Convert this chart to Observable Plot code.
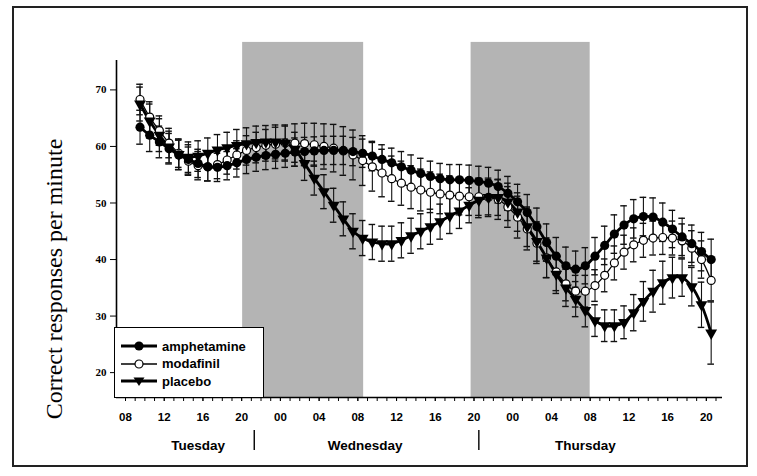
<!DOCTYPE html>
<html>
<head>
<meta charset="utf-8">
<script src="https://cdn.jsdelivr.net/npm/d3@7"></script>
<script src="https://cdn.jsdelivr.net/npm/@observablehq/plot@0.6"></script>
<style>
  body { margin: 0; background: #fff; }
  #wrap { position: relative; width: 757px; height: 476px; overflow: hidden; background: #fff; }
  #frame { position: absolute; left: 12px; top: 6px; width: 736px; height: 461px; border: 2px solid #222; box-sizing: border-box; pointer-events: none; }
  #legend { position: absolute; left: 114px; top: 327px; width: 150px; height: 71px; border: 1.5px solid #000; background: #fff; box-sizing: border-box; }
  .lrow { position: absolute; left: 6px; height: 16px; display: flex; align-items: center; font: bold 13px "Liberation Sans", Arial, sans-serif; color: #000; }
  .lrow svg { margin-right: 5px; }
</style>
</head>
<body>
<div id="wrap">
  <div id="chart"></div>
  <div id="legend"></div>
  <div id="frame"></div>
</div>
<script>
// ---- data ----
const hours = [9.5,10.5,11.5,12.5,13.5,14.5,15.5,16.5,17.5,18.5,19.5,20.5,21.5,22.5,23.5,24.5,25.5,26.5,27.5,28.5,
  29.5,30.5,31.5,32.5,33.5,34.5,35.5,36.5,37.5,38.5,39.5,40.5,41.5,42.5,43.5,44.5,45.5,46.5,47.5,48.5,
  49.5,50.5,51.5,52.5,53.5,54.5,55.5,56.5,57.5,58.5,59.5,60.5,61.5,62.5,63.5,64.5,65.5,66.5,67.5,68.5];

const amphetamine = [63.4,62.0,60.8,59.6,58.5,57.7,57.0,56.4,56.3,56.6, 57.1,57.7,58.1,58.4,58.6,58.8,59.0,59.1,59.2,59.3,
  59.3,59.3,59.1,58.8,58.3,57.7,57.1,56.4,55.8,55.2, 54.7,54.3,54.1,54.1,54.0,53.8,53.5,52.9,51.7,50.2,
  48.3,45.8,43.0,40.6,38.9,38.3,38.9,40.6,42.5,44.5, 46.1,47.2,47.6,47.5,46.6,45.4,44.0,42.8,41.4,40.0];
const modafinil = [68.3,65.2,62.8,60.6,58.8,57.4,56.6,56.4,56.8,57.6, 58.5,59.3,59.8,60.2,60.4,60.6,60.6,60.5,60.3,60.0,
  59.7,59.2,58.5,57.5,56.4,55.3,54.3,53.5,52.8,52.3, 51.9,51.6,51.4,51.2,51.1,51.1,51.0,50.6,49.3,47.5,
  45.4,42.9,40.3,37.8,35.7,34.4,34.4,35.4,37.2,39.4, 41.3,42.6,43.4,43.8,43.9,43.8,43.3,42.0,40.0,36.3];
const placebo = [67.5,64.5,62.0,59.9,58.6,58.1,58.3,58.8,59.4,59.8, 60.2,60.5,60.7,60.8,60.8,60.6,59.5,57.0,54.4,52.0,
  49.6,47.2,45.0,43.8,43.1,42.8,42.8,43.4,44.2,45.0, 45.8,46.7,47.7,48.6,49.6,50.5,51.0,51.0,50.2,48.4,
  45.8,43.2,40.3,37.4,35.0,33.0,31.0,29.2,28.3,28.3, 28.9,30.6,32.6,34.4,35.9,36.8,36.8,35.2,32.0,27.0];

const amphetamineSE = [3.0,2.9,2.8,2.7,2.6,2.6,2.5,2.5,2.5,2.5, 2.5,2.5,2.5,2.5,2.5,2.5,2.5,2.5,2.5,2.5,
  2.5,2.5,2.5,2.5,2.6,2.6,2.6,2.7,2.7,2.7, 2.7,2.7,2.7,2.7,2.7,2.7,2.8,2.9,3.0,3.1,
  3.2,3.3,3.3,3.3,3.3,3.2,3.2,3.3,3.4,3.4, 3.4,3.4,3.4,3.4,3.4,3.3,3.3,3.3,3.4,3.6];
const modafinilSE = [2.7,2.7,2.6,2.6,2.5,2.5,2.5,2.5,2.5,2.5, 2.5,2.6,2.7,2.8,3.0,3.2,3.4,3.6,3.8,4.0,
  4.2,4.3,4.4,4.4,4.3,4.2,4.0,3.9,3.8,3.7, 3.6,3.5,3.4,3.3,3.3,3.3,3.4,3.5,3.6,3.7,
  3.7,3.6,3.5,3.3,3.0,2.8,2.8,2.8,2.9,3.0, 3.0,3.0,3.0,3.0,3.0,3.0,3.0,3.1,3.3,3.6];
const placeboSE = [3.0,3.0,2.9,2.8,2.7,2.7,2.7,2.7,2.7,2.7, 2.8,2.8,2.9,2.9,3.0,3.0,3.0,3.0,3.0,3.0,
  3.0,3.0,3.1,3.1,3.1,3.1,3.1,3.1,3.1,3.1, 3.1,3.1,3.1,3.1,3.1,3.1,3.1,3.2,3.3,3.4,
  3.5,3.5,3.5,3.4,3.3,3.1,2.9,2.8,2.8,2.8, 2.9,3.2,3.5,3.7,3.8,3.6,3.3,3.4,4.0,5.5];

const seriesNames = ["amphetamine", "modafinil", "placebo"];
const nights = [{start: 20.1, end: 32.6}, {start: 43.7, end: 56.0}];
const yTicks = [20, 30, 40, 50, 60, 70];
const xTickHours = [8, 12, 16, 20, 24, 28, 32, 36, 40, 44, 48, 52, 56, 60, 64, 68];
const xTickLabels = ["08","12","16","20","00","04","08","12","16","20","00","04","08","12","16","20"];
const xMinorHours = d3.range(8, 70);
const days = [{name: "Tuesday", t: 15.5}, {name: "Wednesday", t: 32.75}, {name: "Thursday", t: 55.5}];
const daySeparators = [21.3, 44.5];
const yAxisTitle = "Correct responses per minute";

// ---- build table ----
function rows(name, vals, ses) {
  return hours.map((t, i) => ({series: name, t, v: vals[i], se: ses[i]}));
}
const ampRows = rows("amphetamine", amphetamine, amphetamineSE);
const modRows = rows("modafinil", modafinil, modafinilSE);
const plaRows = rows("placebo", placebo, placeboSE);
const allRows = [...ampRows, ...modRows, ...plaRows];

const xDomain = [7.07, 69.67];
const yDomain = [15.6, 75.2];
const shadeTop = 78.4;
const cap = 0.34;
const labelMap = new Map(xTickHours.map((h, i) => [h, xTickLabels[i]]));
const sans = "'Liberation Sans', Arial, sans-serif";
const serif = "'Liberation Serif', 'Times New Roman', serif";

const chart = Plot.plot({
  width: 757,
  height: 476,
  marginLeft: 116,
  marginRight: 35,
  marginTop: 60,
  marginBottom: 79,
  style: {background: "transparent", overflow: "visible"},
  x: {domain: xDomain},
  y: {domain: yDomain},
  marks: [
    Plot.rect(nights, {x1: "start", x2: "end", y1: yDomain[0], y2: shadeTop, fill: "#b4b4b4"}),
    Plot.ruleX(allRows, {x: "t", y1: d => d.v - d.se, y2: d => d.v + d.se, stroke: "#111", strokeWidth: 1.1}),
    Plot.ruleY(allRows, {y: d => d.v + d.se, x1: d => d.t - cap, x2: d => d.t + cap, stroke: "#111", strokeWidth: 1.4}),
    Plot.ruleY(allRows, {y: d => d.v - d.se, x1: d => d.t - cap, x2: d => d.t + cap, stroke: "#111", strokeWidth: 1.4}),
    Plot.line(modRows, {x: "t", y: "v", stroke: "#000", strokeWidth: 1.3, curve: "catmull-rom"}),
    Plot.line(ampRows, {x: "t", y: "v", stroke: "#000", strokeWidth: 2.8, curve: "catmull-rom"}),
    Plot.line(plaRows, {x: "t", y: "v", stroke: "#000", strokeWidth: 2.8, curve: "catmull-rom"}),
    Plot.dot(modRows, {x: "t", y: "v", r: 4, fill: "#fff", stroke: "#000", strokeWidth: 1.2}),
    Plot.dot(ampRows, {x: "t", y: "v", r: 4.6, fill: "#000", stroke: "none"}),
    Plot.dot(plaRows, {x: "t", y: "v", r: 4.4, symbol: "triangle", rotate: 180, fill: "#000", stroke: "none"}),
    Plot.ruleX([xDomain[0]], {stroke: "#000", strokeWidth: 1.6}),
    Plot.ruleY([yDomain[0]], {stroke: "#000", strokeWidth: 1.6}),
    Plot.axisY({ticks: yTicks, tickSize: 6, tickPadding: 4, label: null, fontSize: 11, fontWeight: "bold", fontFamily: serif, stroke: "#000"}),
    Plot.axisX({ticks: xMinorHours, tickSize: 4, tickFormat: () => "", label: null, stroke: "#000"}),
    Plot.axisX({ticks: xTickHours, tickSize: 4, tickPadding: 11, tickFormat: d => labelMap.get(d), label: null,
      fontSize: 11.5, fontWeight: "bold", fontFamily: sans, stroke: "#000"}),
    Plot.text([yAxisTitle], {frameAnchor: "left", dx: -62, dy: 50, rotate: -90, textAnchor: "middle", lineAnchor: "middle",
      fontSize: 24, fontFamily: serif, fill: "#000"}),
    Plot.text(days, {x: "t", text: "name", frameAnchor: "bottom", dy: 48, lineAnchor: "middle",
      fontSize: 13.5, fontWeight: "bold", fontFamily: sans, fill: "#000"}),
    Plot.ruleX(daySeparators, {insetTop: 370, insetBottom: -53, stroke: "#000", strokeWidth: 1.4})
  ]
});
document.getElementById("chart").appendChild(chart);

// ---- legend (HTML overlay) ----
const legendSymbols = {
  amphetamine: `<line x1="0" y1="7" x2="36" y2="7" stroke="#000" stroke-width="2.8"/><circle cx="18" cy="7" r="4.6" fill="#000"/>`,
  modafinil: `<line x1="0" y1="7" x2="36" y2="7" stroke="#000" stroke-width="1.3"/><circle cx="18" cy="7" r="4" fill="#fff" stroke="#000" stroke-width="1.2"/>`,
  placebo: `<line x1="0" y1="7" x2="36" y2="7" stroke="#000" stroke-width="2.8"/><path d="M12.5,3.5 L23.5,3.5 L18,12 Z" fill="#000"/>`
};
const legend = document.getElementById("legend");
seriesNames.forEach((name, i) => {
  const row = document.createElement("div");
  row.className = "lrow";
  row.style.top = (10 + i * 17.5) + "px";
  row.innerHTML = `<svg width="36" height="14">${legendSymbols[name]}</svg><span>${name}</span>`;
  legend.appendChild(row);
});
</script>
</body>
</html>
